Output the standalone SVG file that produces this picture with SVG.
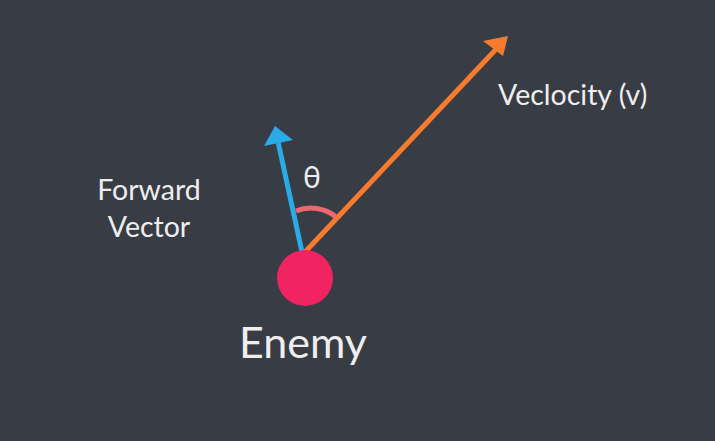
<svg xmlns="http://www.w3.org/2000/svg" width="715" height="441" viewBox="0 0 715 441">
<style>
text{font-family:Lato,"Open Sans","Liberation Sans",sans-serif;fill:#eeeeee}
.lbl{font-size:28.5px}
</style>
<rect width="715" height="441" fill="#383c44"/>
<g id="connectors">
<path d="M302,252 L277,137" stroke="#2aaae6" stroke-width="5" fill="none"/>
<polygon points="275,126 293,140 264,146" fill="#2aaae6"/>
<path d="M305,252 L500,45" stroke="#f77b2c" stroke-width="5" fill="none"/>
<polygon points="508,36 503,56 483,41" fill="#f77b2c"/>
<path d="M296,211 A40,40 0 0 1 336,217" stroke="#f0666e" stroke-width="5" fill="none"/>
</g>
<g id="enemy">
<circle cx="305" cy="278" r="28" fill="#f02461"/>
<text x="303" y="358" font-size="43" text-anchor="middle">Enemy</text>
</g>
<g id="theta"><text x="312" y="188" font-size="30" text-anchor="middle">θ</text></g>
<g id="velocity"><text x="498" y="105" class="lbl">Veclocity (v)</text></g>
<g id="forward">
<text x="149" y="200" class="lbl" text-anchor="middle">Forward</text>
<text x="149" y="237" class="lbl" text-anchor="middle">Vector</text>
</g>
</svg>
